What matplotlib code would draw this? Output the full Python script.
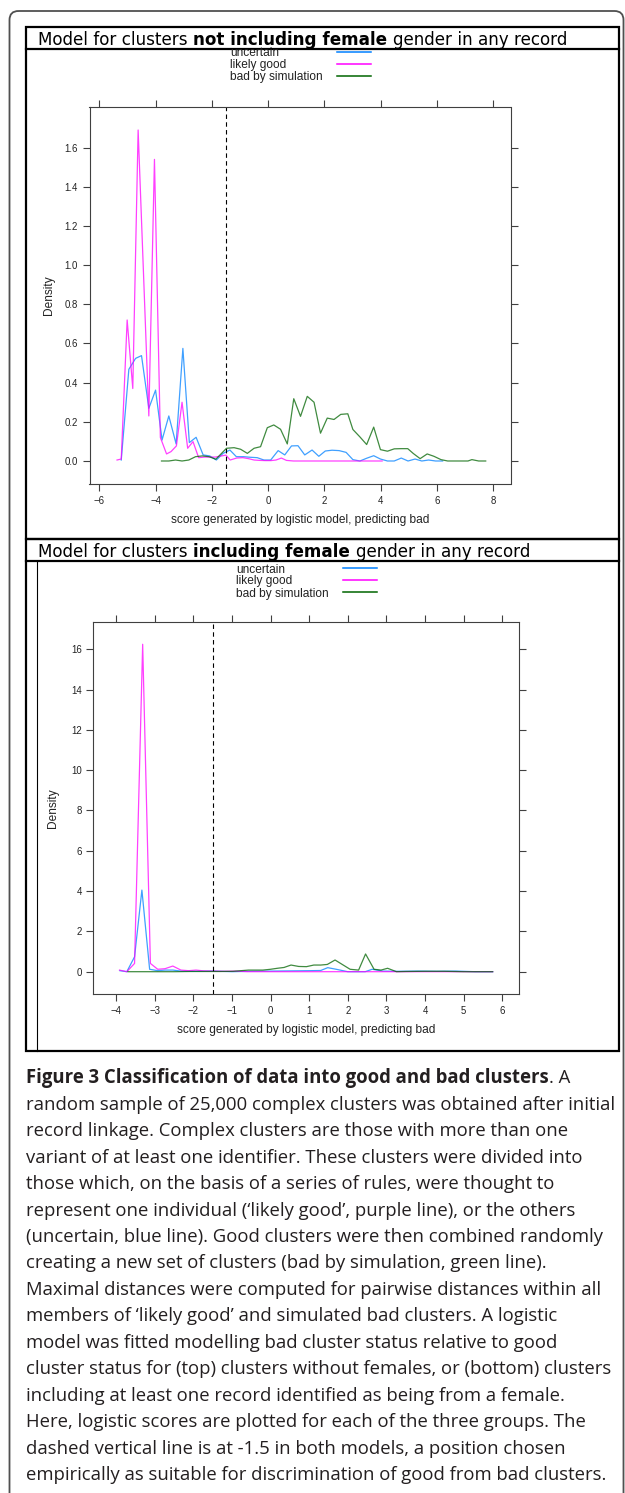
import numpy as np
import matplotlib
matplotlib.use('Agg')
import matplotlib.pyplot as plt
from matplotlib.transforms import Affine2D
from matplotlib.patches import Rectangle, FancyBboxPatch
from matplotlib.lines import Line2D

# ---- data ----
groups = ['uncertain', 'likely good', 'bad by simulation']
colors = ['#0080ff', '#ff00ff', '#006400']

# top panel: clusters not including female
unc1_x = [-5.22, -4.95, -4.71, -4.50, -4.24, -4.00, -3.77, -3.53, -3.27, -3.03,
          -2.80, -2.56, -2.31, -2.08, -1.84, -1.60, -1.36, -1.13, -0.87, -0.63,
          -0.39, -0.15, 0.09, 0.355, 0.59, 0.83, 1.06, 1.30, 1.56, 1.80,
          2.03, 2.27, 2.52, 2.77, 3.01, 3.26, 3.50, 3.75, 3.99, 4.24,
          4.48, 4.73, 4.97, 5.22, 5.46, 5.70, 5.95, 6.20]
unc1_y = [0.005, 0.468, 0.524, 0.538, 0.269, 0.362, 0.107, 0.23, 0.087, 0.575,
          0.094, 0.121, 0.031, 0.026, 0.005, 0.039, 0.056, 0.022, 0.022, 0.019,
          0.017, 0.005, 0.005, 0.053, 0.031, 0.077, 0.078, 0.031, 0.056, 0.024,
          0.051, 0.055, 0.053, 0.044, 0.007, 0.0, 0.014, 0.027, 0.01, 0.0,
          0.0, 0.015, 0.0, 0.01, 0.0, 0.005, 0.0, 0.0]

good1_x = [-5.37, -5.22, -5.01, -4.81, -4.62, -4.24, -4.04, -3.83, -3.61, -3.45,
           -3.26, -3.06, -2.86, -2.67, -2.47, -2.27, -2.08, -1.88, -1.69, -1.50,
           -1.35, -1.12, -0.90, -0.70, -0.50, -0.30, -0.10, 0.10, 0.28, 0.47,
           0.65, 0.90, 1.2, 1.6, 2.0, 2.5, 3.0, 3.5, 4.05]
good1_y = [0.005, 0.01, 0.72, 0.37, 1.69, 0.23, 1.54, 0.12, 0.036, 0.048,
           0.077, 0.30, 0.065, 0.099, 0.017, 0.02, 0.02, 0.02, 0.025, 0.03,
           0.005, 0.015, 0.017, 0.012, 0.005, 0.003, 0.002, 0.002, 0.005, 0.015,
           0.003, 0.0, 0.0, 0.0, 0.0, 0.0, 0.0, 0.0, 0.0]

bad1_x = [-3.79, -3.53, -3.29, -3.06, -2.82, -2.58, -2.34, -2.10, -1.86, -1.48,
          -1.21, -0.98, -0.74, -0.50, -0.27, -0.03, 0.20, 0.44, 0.68, 0.91,
          1.15, 1.39, 1.63, 1.86, 2.10, 2.34, 2.58, 2.83, 3.01, 3.26,
          3.50, 3.75, 3.99, 4.24, 4.48, 4.72, 4.96, 5.16, 5.40, 5.65,
          5.89, 6.14, 6.38, 6.62, 6.86, 7.10, 7.24, 7.48, 7.73]
bad1_y = [0.0, 0.0, 0.005, 0.0, 0.005, 0.022, 0.026, 0.022, 0.009, 0.065,
          0.068, 0.06, 0.039, 0.065, 0.073, 0.170, 0.184, 0.162, 0.087, 0.318,
          0.228, 0.33, 0.30, 0.142, 0.219, 0.212, 0.238, 0.241, 0.161, 0.123,
          0.084, 0.173, 0.058, 0.05, 0.062, 0.063, 0.063, 0.038, 0.012, 0.036,
          0.024, 0.007, 0.0, 0.0, 0.0, 0.0, 0.007, 0.0, 0.0]

# bottom panel: clusters including female
unc2_x = [-3.90, -3.72, -3.52, -3.33, -3.13, -2.92, -2.73, -2.53, -2.32, -2.0,
          -1.5, -1.0, -0.5, 0.0, 0.5, 1.0, 1.3, 1.48, 1.70, 2.0,
          2.45, 2.63, 2.9, 3.3, 3.8, 4.3, 4.8, 5.3, 5.75]
unc2_y = [0.05, 0.0, 0.74, 4.05, 0.12, 0.05, 0.08, 0.08, 0.03, 0.02,
          0.03, 0.0, 0.02, 0.03, 0.04, 0.05, 0.06, 0.2, 0.12, 0.0,
          0.0, 0.12, 0.03, 0.02, 0.03, 0.02, 0.03, 0.0, 0.0]

good2_x = [-3.91, -3.72, -3.52, -3.31, -3.11, -2.92, -2.73, -2.53, -2.32, -2.12,
           -1.93, -1.73, -1.5, -1.2, -0.9, -0.6, -0.3, 0.0, 0.5, 1.0,
           1.5, 2.0, 2.5, 3.0, 3.5, 4.0, 4.5, 5.0, 5.5, 5.75]
good2_y = [0.08, 0.0, 0.41, 16.25, 0.41, 0.12, 0.15, 0.28, 0.08, 0.05,
           0.08, 0.04, 0.03, 0.02, 0.03, 0.0, 0.0, 0.0, 0.0, 0.0,
           0.0, 0.0, 0.0, 0.0, 0.0, 0.0, 0.0, 0.0, 0.0, 0.0]

bad2_x = [-3.69, -3.3, -2.9, -2.5, -2.1, -1.7, -1.3, -0.97, -0.77, -0.57,
          -0.38, -0.2, 0.0, 0.18, 0.35, 0.53, 0.73, 0.93, 1.12, 1.30,
          1.47, 1.67, 2.06, 2.28, 2.46, 2.68, 2.86, 3.03, 3.26, 3.5,
          4.0, 4.5, 5.0, 5.5, 5.75]
bad2_y = [0.0, 0.0, 0.0, 0.0, 0.01, 0.01, 0.01, 0.02, 0.05, 0.08,
          0.08, 0.08, 0.12, 0.17, 0.21, 0.33, 0.26, 0.25, 0.33, 0.33,
          0.36, 0.58, 0.12, 0.08, 0.88, 0.12, 0.08, 0.17, 0.0, 0.01,
          0.02, 0.02, 0.0, 0.0, 0.0]

cutoff = -1.5

title1 = [('Model for clusters', 'normal'), (' ', 'normal'), ('not including female', 'bold'),
          (' ', 'bold'), ('gender in any record', 'normal')]
title2 = [('Model for clusters', 'normal'), (' ', 'normal'), ('including female', 'bold'),
          (' ', 'bold'), ('gender in any record', 'normal')]
xlab = 'score generated by logistic model, predicting bad'

caption_head = 'Figure 3 Classification of data into good and bad clusters'
caption_lines = [
    '. A',
    'random sample of 25,000 complex clusters was obtained after initial',
    'record linkage. Complex clusters are those with more than one',
    'variant of at least one identifier. These clusters were divided into',
    'those which, on the basis of a series of rules, were thought to',
    'represent one individual (\u2018likely good\u2019, purple line), or the others',
    '(uncertain, blue line). Good clusters were then combined randomly',
    'creating a new set of clusters (bad by simulation, green line).',
    'Maximal distances were computed for pairwise distances within all',
    'members of \u2018likely good\u2019 and simulated bad clusters. A logistic',
    'model was fitted modelling bad cluster status relative to good',
    'cluster status for (top) clusters without females, or (bottom) clusters',
    'including at least one record identified as being from a female.',
    'Here, logistic scores are plotted for each of the three groups. The',
    'dashed vertical line is at -1.5 in both models, a position chosen',
    'empirically as suitable for discrimination of good from bad clusters.',
]

# ---- figure in pixel coordinates (y down) ----
W, H = 625, 1493
fig = plt.figure(figsize=(W / 100, H / 100), dpi=100)
pix = Affine2D().scale(1 / W, -1 / H).translate(0, 1) + fig.transFigure
renderer = fig.canvas.get_renderer()


def advance(s, **kw):
    t1 = fig.text(0, 0, '|' + s + '|', **kw)
    t2 = fig.text(0, 0, '||', **kw)
    w = t1.get_window_extent(renderer).width - t2.get_window_extent(renderer).width
    t1.remove()
    t2.remove()
    return w


def rich(x, y, parts, **kw):
    for s, wt in parts:
        fig.text(x, y, s, transform=pix, fontweight=wt, va='baseline', ha='left', **kw)
        x += advance(s, fontweight=wt, **kw)
    return x


def add_ax(l, t, r, b):
    return fig.add_axes([l / W, 1 - b / H, (r - l) / W, (b - t) / H])


# outer rounded frame
fig.add_artist(FancyBboxPatch((9.5, 11), 614, 1600, boxstyle='round,pad=0,rounding_size=9',
                              transform=pix, fill=False, ec='#505050', lw=1.3))
# panel frames
for top in (27, 539):
    fig.add_artist(Rectangle((25.7, top), 619 - 25.7, 512, transform=pix,
                             fill=False, ec='black', lw=1.6))
    fig.add_artist(Line2D([25.7, 619], [top + 22, top + 22], transform=pix, color='black', lw=1.6))
fig.add_artist(Line2D([37.3, 37.3], [561, 1051], transform=pix, color='black', lw=0.8))

tfont = dict(family='DejaVu Sans', fontsize=12.1, color='black')
rich(38, 45, title1, **tfont)
rich(38, 557, title2, **tfont)

rfont = 'Liberation Sans'


def panel(rect, xlim, ylim, xticks, yticks, ylabs, series, leg_x, leg_y, line_x, dens_x):
    ax = add_ax(*rect)
    for (x, y), c in zip(series, colors):
        ax.plot(x, y, color=c, lw=0.9, alpha=0.75)
    ax.axvline(cutoff, color='black', lw=0.8, ls=(0, (4, 3)))
    ax.set_xlim(*xlim)
    ax.set_ylim(*ylim)
    ax.set_xticks(xticks)
    ax.set_yticks(yticks)
    ax.set_yticklabels(ylabs)
    for s in ax.spines.values():
        s.set_color('#404040')
        s.set_linewidth(0.8)
    ax.tick_params(direction='out', length=4.8, width=0.8, color='#404040',
                   top=True, right=True, labeltop=False, labelright=False,
                   labelsize=6.9, pad=3.5, labelcolor='#222222')
    for lab in ax.get_xticklabels() + ax.get_yticklabels():
        lab.set_family(rfont)
    ax.set_xlabel(xlab, fontsize=8.6, family=rfont, color='#222222', labelpad=6)
    l, t, r, b = rect
    fig.text(dens_x, (t + b) / 2, 'Density', transform=pix, rotation=90, ha='center',
             va='center', fontsize=8.6, family=rfont, color='#222222')
    for g, c, ly in zip(groups, colors, leg_y):
        fig.text(leg_x, ly + 1.3, g, transform=pix, ha='left', va='center',
                 fontsize=8.6, family=rfont, color='#222222')
        fig.add_artist(Line2D(line_x, [ly, ly], transform=pix, color=c, lw=1.1))
    return ax


ax1 = panel((89.5, 106.7, 510.5, 484.3), (-6.348, 8.611), (-0.119, 1.809),
            np.arange(-6, 9, 2), np.arange(0, 1.61, 0.2), ['%.1f' % v for v in np.arange(0, 1.61, 0.2)],
            [(unc1_x, unc1_y), (good1_x, good1_y), (bad1_x, bad1_y)],
            230, [51.7, 63.7, 76], [337, 371], 49)
ax2 = panel((93.3, 621.7, 519, 994), (-4.588, 6.432), (-1.107, 17.37),
            np.arange(-4, 7, 1), np.arange(0, 17, 2), [str(v) for v in range(0, 17, 2)],
            [(unc2_x, unc2_y), (good2_x, good2_y), (bad2_x, bad2_y)],
            236, [568.3, 580, 592.3], [342.7, 377.3], 53)

# caption
cap_font = 'Open Sans'
w12 = advance(caption_lines[1], family=cap_font, fontsize=12)
cap_size = 12 * 588 / w12
cfont = dict(family=cap_font, fontsize=cap_size, color='#231f20')
base = 1083.3
step = 26.45
x = rich(26, base, [(caption_head, 'bold')], **cfont)
fig.text(x, base, caption_lines[0], transform=pix, va='baseline', ha='left', **cfont)
for i, line in enumerate(caption_lines[1:], start=1):
    fig.text(26, base + i * step, line, transform=pix, va='baseline', ha='left', **cfont)

fig.savefig('out.png', dpi=100)
